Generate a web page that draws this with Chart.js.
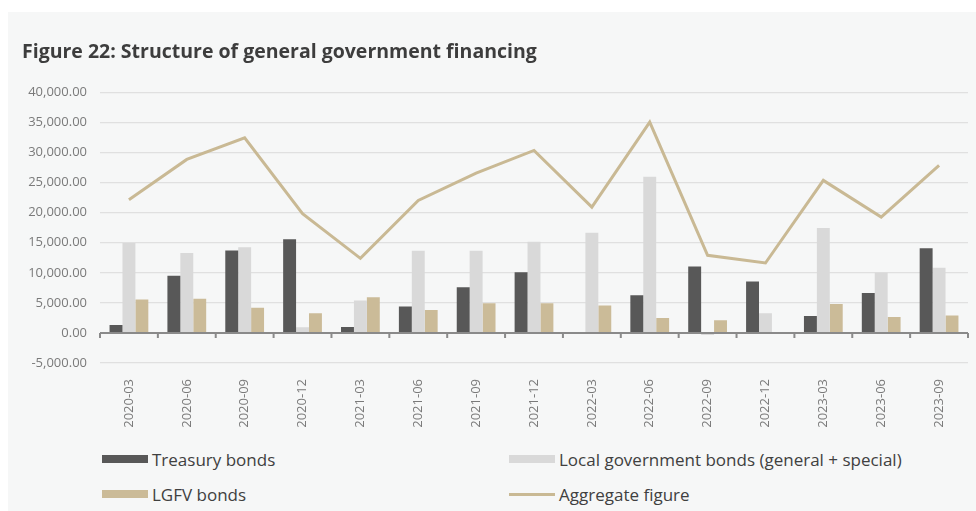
<!DOCTYPE html>
<html>
<head>
<meta charset="utf-8">
<title>General government financing</title>
<script src="https://cdn.jsdelivr.net/npm/chart.js@4.4.0/dist/chart.umd.min.js"></script>
<style>
  body { margin: 0; background: #ffffff; }
  #panel { position: absolute; left: 8px; top: 12px; width: 968px; height: 499px; background: #f6f7f7; }
  #box { position: absolute; left: 0; top: 0; width: 968px; height: 428px; }
  #legend {
    position: absolute; left: 94px; top: 435px;
    display: grid; grid-template-columns: 407px auto; row-gap: 11px;
    font-family: "Open Sans", sans-serif; font-size: 17px; color: #404040;
  }
  #legend .item { display: flex; align-items: center; height: 24px; }
  #legend .swatch { display: inline-block; width: 46px; height: 8px; margin-right: 4px; }
  #legend .swatch.line { height: 3px; }
</style>
</head>
<body>
<div id="panel">
  <div id="box"><canvas id="myChart"></canvas></div>
  <div id="legend"></div>
</div>
<script>
const quarters = ['2020-03', '2020-06', '2020-09', '2020-12', '2021-03', '2021-06', '2021-09', '2021-12',
  '2022-03', '2022-06', '2022-09', '2022-12', '2023-03', '2023-06', '2023-09'];
const treasury = [1330, 9530, 13700, 15560, 1000, 4380, 7590, 10080, 0, 6260, 11030, 8540, 2830, 6650, 14070];
const localGov = [14950, 13300, 14240, 950, 5380, 13680, 13680, 15180, 16680, 25980, -350, 3270, 17440, 10030, 10860];
const lgfv = [5550, 5700, 4200, 3270, 5930, 3820, 4930, 4930, 4550, 2490, 2110, 0, 4820, 2660, 2890];
const aggregate = [22160, 28850, 32450, 19830, 12400, 22040, 26580, 30350, 20930, 35050, 12900, 11630, 25370, 19270, 27860];

const font = '"Open Sans", sans-serif';

// zero line with small tick marks at every category boundary
const zeroAxis = {
  id: 'zeroAxis',
  afterDatasetsDraw(chart) {
    const ctx = chart.ctx;
    const x = chart.scales.x;
    const y = chart.scales.y;
    const y0 = y.getPixelForValue(0);
    const n = chart.data.labels.length;
    const step = (x.right - x.left) / n;
    ctx.save();
    ctx.strokeStyle = '#8a8a8a';
    ctx.lineWidth = 2;
    ctx.beginPath();
    ctx.moveTo(x.left, y0);
    ctx.lineTo(x.right, y0);
    for (let i = 0; i <= n; i++) {
      const px = x.left + i * step;
      ctx.moveTo(px, y0);
      ctx.lineTo(px, y0 + 5);
    }
    ctx.stroke();
    ctx.restore();
  }
};

const ctx = document.getElementById('myChart');
const myChart = new Chart(ctx, {
  type: 'bar',
  data: {
    labels: quarters,
    datasets: [
      {
        type: 'line',
        label: 'Aggregate figure',
        data: aggregate,
        borderColor: '#c9b994',
        backgroundColor: '#c9b994',
        borderWidth: 3,
        pointRadius: 0,
        tension: 0,
        order: 0
      },
      { label: 'Treasury bonds', data: treasury, backgroundColor: '#585858', order: 1 },
      { label: 'Local government bonds (general + special)', data: localGov, backgroundColor: '#d9d9d9', order: 1 },
      { label: 'LGFV bonds', data: lgfv, backgroundColor: '#cbbb98', order: 1 }
    ]
  },
  options: {
    responsive: true,
    maintainAspectRatio: false,
    devicePixelRatio: 1,
    animation: false,
    layout: { padding: { left: 14, right: 8, top: 0, bottom: 0 } },
    datasets: {
      bar: { categoryPercentage: 0.67, barPercentage: 1.0, borderWidth: 0 }
    },
    plugins: {
      legend: { display: false },
      tooltip: { enabled: false },
      title: {
        display: true,
        text: 'Figure 22: Structure of general government financing',
        align: 'start',
        color: '#3d3d3d',
        font: { family: font, size: 19.5, weight: 'bold', lineHeight: 1.2 },
        padding: { top: 29, bottom: 28 }
      }
    },
    scales: {
      x: {
        grid: { display: false },
        border: { display: false },
        ticks: {
          color: '#7a7a7a',
          font: { family: font, size: 13 },
          minRotation: 90,
          maxRotation: 90,
          autoSkip: false,
          padding: 8
        },
        afterFit(scale) { scale.height = 77; }
      },
      y: {
        min: -5000,
        max: 40000,
        border: { display: false },
        grid: {
          drawTicks: false,
          lineWidth: 1.3,
          color: (c) => c.tick && c.tick.value === 0 ? 'rgba(0,0,0,0)' : '#e0e0e0'
        },
        ticks: {
          stepSize: 5000,
          padding: 13,
          color: '#7a7a7a',
          font: { family: font, size: 13 },
          callback: (v) => v.toLocaleString('en-US', { minimumFractionDigits: 2, maximumFractionDigits: 2 })
        },
        afterFit(scale) { scale.width = 78; }
      }
    }
  },
  plugins: [zeroAxis]
});

// legend in two columns: bars first row, LGFV and the line second
const legendOrder = [1, 2, 3, 0];
const legend = document.getElementById('legend');
legendOrder.forEach(function (i) {
  const ds = myChart.data.datasets[i];
  const item = document.createElement('div');
  item.className = 'item';
  const sw = document.createElement('span');
  sw.className = 'swatch' + (ds.type === 'line' ? ' line' : '');
  sw.style.background = ds.backgroundColor;
  item.appendChild(sw);
  item.appendChild(document.createTextNode(ds.label));
  legend.appendChild(item);
});
</script>
</body>
</html>
